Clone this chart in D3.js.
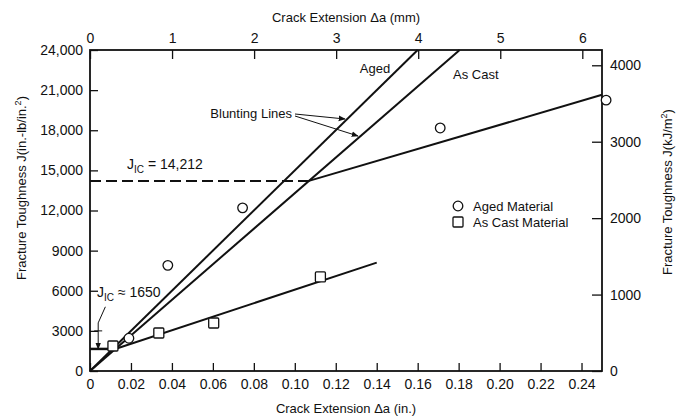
<!DOCTYPE html>
<html><head><meta charset="utf-8">
<script src="https://cdn.jsdelivr.net/npm/d3@7/dist/d3.min.js"></script>
<style>
body{margin:0;background:#fff}
text{font-family:"Liberation Sans",Arial,sans-serif;fill:#111}
</style>
</head><body>
<svg id="c" width="676" height="416"></svg>
<script>
// ---- data ----
const bottomTicks = [0,0.02,0.04,0.06,0.08,0.10,0.12,0.14,0.16,0.18,0.20,0.22,0.24];
const bottomTickLabels = ["0","0.02","0.04","0.06","0.08","0.10","0.12","0.14","0.16","0.18","0.20","0.22","0.24"];
const leftTicks = [0,3000,6000,9000,12000,15000,18000,21000,24000];
const leftTickLabels = ["0","3000","6000","9000","12,000","15,000","18,000","21,000","24,000"];
const rightTicks = [0,1000,2000,3000,4000];
const rightTickLabels = ["0","1000","2000","3000","4000"];
const topTicks = [0,1,2,3,4,5,6];
const topTickLabels = ["0","1","2","3","4","5","6"];

const agedDa = [0.019,0.038,0.0745,0.171,0.252];
const agedJ  = [2450,7900,12200,18170,20250];
const castDa = [0.0112,0.0336,0.0604,0.1125];
const castJ  = [1870,2840,3590,7030];

const agedBluntDa = [0,0.16],   agedBluntJ = [0,24000];
const castBluntDa = [0,0.1805], castBluntJ = [0,24000];
const agedFitDa = [0.1069,0.25], agedFitJ = [14212,20650];
const castFitDa = [0.0123,0.14], castFitJ = [1650,8100];
const jicHigh = 14212, jicHighDa = 0.1069;
const jicLow = 1650, jicLowDa = 0.0123;

// ---- scales ----
const L=90,R=602,T=50,B=371;
const x = d3.scaleLinear().domain([0,0.25]).range([L,R]);
const xmm = d3.scaleLinear().domain([0,6.24]).range([L,R]);
const y = d3.scaleLinear().domain([0,24000]).range([B,T]);
const yk = d3.scaleLinear().domain([0,4200]).range([B,T]);

const svg = d3.select("#c");
const g = svg.append("g");

// axes
const ax1 = g.append("g").attr("transform",`translate(0,${B})`)
  .call(d3.axisBottom(x).tickValues(bottomTicks).tickFormat((d,i)=>bottomTickLabels[i]).tickSizeInner(-8).tickSizeOuter(0).tickPadding(8));
const ax2 = g.append("g").attr("transform",`translate(${L},0)`)
  .call(d3.axisLeft(y).tickValues(leftTicks).tickFormat((d,i)=>leftTickLabels[i]).tickSizeInner(-8).tickSizeOuter(0).tickPadding(7));
const ax3 = g.append("g").attr("transform",`translate(0,${T})`)
  .call(d3.axisTop(xmm).tickValues(topTicks).tickFormat((d,i)=>topTickLabels[i]).tickSizeInner(-9).tickSizeOuter(0).tickPadding(7));
const ax4 = g.append("g").attr("transform",`translate(${R},0)`)
  .call(d3.axisRight(yk).tickValues(rightTicks).tickFormat((d,i)=>rightTickLabels[i]).tickSizeInner(-10).tickSizeOuter(0).tickPadding(8));
[ax1,ax2,ax3,ax4].forEach(a=>{
  a.select(".domain").remove();
  a.selectAll("line").attr("stroke","#111").attr("stroke-width",1.3);
  a.selectAll("text").style("font-family","'Liberation Sans',Arial,sans-serif").style("font-size","14px").attr("fill","#111");
});

// frame
g.append("rect").attr("x",L).attr("y",T).attr("width",R-L).attr("height",B-T)
  .attr("fill","none").attr("stroke","#111").attr("stroke-width",1.8);

// titles
g.append("text").attr("x",346).attr("y",22).attr("text-anchor","middle").style("font-size","13px").text("Crack Extension \u0394a (mm)");
g.append("text").attr("x",346).attr("y",413).attr("text-anchor","middle").style("font-size","13px").text("Crack Extension \u0394a (in.)");
g.append("text").attr("transform","translate(26,188) rotate(-90)").attr("text-anchor","middle").style("font-size","13px")
  .html('Fracture Toughness J(in.-lb/in.<tspan dy="-5" font-size="9">2</tspan><tspan dy="5">)</tspan>');
g.append("text").attr("transform","translate(672,192) rotate(-90)").attr("text-anchor","middle").style("font-size","13px")
  .html('Fracture Toughness J(kJ/m<tspan dy="-5" font-size="9">2</tspan><tspan dy="5">)</tspan>');

// lines
const line = d3.line().x(d=>x(d[0])).y(d=>y(d[1]));
const seg = (da,j)=>da.map((d,i)=>[d,j[i]]);
[[agedBluntDa,agedBluntJ],[castBluntDa,castBluntJ],[agedFitDa,agedFitJ],[castFitDa,castFitJ]].forEach(([a,b])=>{
  g.append("path").attr("d",line(seg(a,b))).attr("fill","none").attr("stroke","#111").attr("stroke-width",2);
});
// dashed J_IC line
g.append("path").attr("d",line([[0,jicHigh],[jicHighDa,jicHigh]])).attr("fill","none")
  .attr("stroke","#111").attr("stroke-width",2).attr("stroke-dasharray","11,5");
// low J_IC marker
g.append("path").attr("d",line([[0,jicLow],[jicLowDa,jicLow]])).attr("fill","none").attr("stroke","#111").attr("stroke-width",2.5);

// arrow marker
svg.append("defs").append("marker").attr("id","ah").attr("viewBox","0 0 10 10").attr("refX",9).attr("refY",5)
  .attr("markerWidth",7).attr("markerHeight",7).attr("orient","auto")
  .append("path").attr("d","M0,1 L10,5 L0,9 Z").attr("fill","#111");

// J_IC low dimension
const dx = x(0.004);
g.append("line").attr("x1",dx).attr("x2",dx).attr("y1",y(3000)-8).attr("y2",y(jicLow)).attr("stroke","#111").attr("stroke-width",1).attr("marker-end","url(#ah)");
g.append("line").attr("x1",dx-4).attr("x2",dx+4).attr("y1",y(3000)).attr("y2",y(3000)).attr("stroke","#111").attr("stroke-width",1);
g.append("line").attr("x1",x(0.0075)).attr("x2",dx).attr("y1",y(4800)).attr("y2",y(3000)-8).attr("stroke","#111").attr("stroke-width",1);

// markers
g.selectAll(".aged").data(agedDa).enter().append("circle")
  .attr("cx",d=>x(d)).attr("cy",(d,i)=>y(agedJ[i])).attr("r",4.8)
  .attr("fill","#fff").attr("stroke","#111").attr("stroke-width",1.3);
g.selectAll(".cast").data(castDa).enter().append("rect")
  .attr("x",d=>x(d)-5).attr("y",(d,i)=>y(castJ[i])-5).attr("width",10).attr("height",10).attr("rx",1)
  .attr("fill","#fff").attr("stroke","#111").attr("stroke-width",1.3);

// annotations
g.append("text").attr("x",375).attr("y",73).attr("text-anchor","middle").style("font-size","13px").text("Aged");
g.append("text").attr("x",453).attr("y",79).style("font-size","13px").text("As Cast");
g.append("text").attr("x",292).attr("y",118).attr("text-anchor","end").style("font-size","13px").text("Blunting Lines");
g.append("line").attr("x1",295).attr("y1",114).attr("x2",345).attr("y2",119).attr("stroke","#111").attr("stroke-width",1).attr("marker-end","url(#ah)");
g.append("line").attr("x1",295).attr("y1",116).attr("x2",358).attr("y2",136).attr("stroke","#111").attr("stroke-width",1).attr("marker-end","url(#ah)");
g.append("text").attr("x",127).attr("y",169).style("font-size","14px")
  .html('J<tspan dy="4" font-size="10">IC</tspan><tspan dy="-4"> = 14,212</tspan>');
g.append("text").attr("x",97).attr("y",297).style("font-size","14px")
  .html('J<tspan dy="4" font-size="10">IC</tspan><tspan dy="-4"> \u2248 1650</tspan>');

// legend
g.append("circle").attr("cx",458).attr("cy",206).attr("r",4.8).attr("fill","#fff").attr("stroke","#111").attr("stroke-width",1.3);
g.append("text").attr("x",473).attr("y",210.5).style("font-size","13px").text("Aged Material");
g.append("rect").attr("x",453).attr("y",217).attr("width",10).attr("height",10).attr("rx",1).attr("fill","#fff").attr("stroke","#111").attr("stroke-width",1.3);
g.append("text").attr("x",473).attr("y",226.5).style("font-size","13px").text("As Cast Material");
</script>
</body></html>
